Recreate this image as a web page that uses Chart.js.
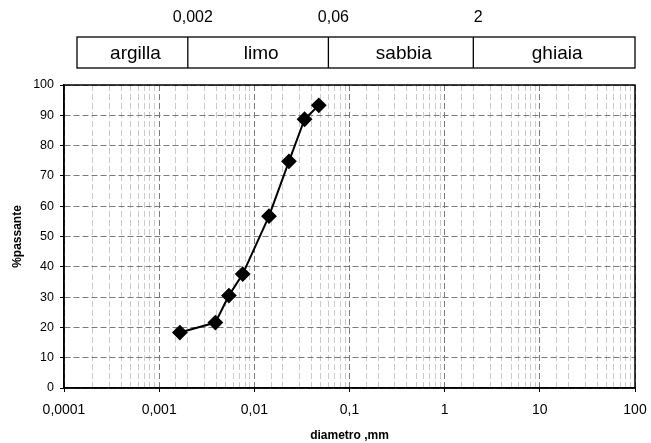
<!DOCTYPE html>
<html lang="it">
<head>
<meta charset="UTF-8" />
<title>Curva granulometrica</title>
<script src="https://cdn.jsdelivr.net/npm/chart.js@4.4.1/dist/chart.umd.min.js"></script>
<style>
  html, body { margin: 0; padding: 0; background: #fff; }
  #wrap { width: 651px; height: 443px; position: relative; }
</style>
</head>
<body>
<div id="wrap"><canvas id="grano"></canvas></div>
<script>
// dati
const diametri = [0.00165, 0.0039, 0.0054, 0.00755, 0.01426, 0.0231, 0.0337, 0.0476];
const passante = [18.3, 21.6, 30.5, 37.6, 56.7, 74.8, 88.7, 93.3];

// classificazione granulometrica
const limitiClassi = [0.002, 0.06, 2];
const etichetteLimiti = ['0,002', '0,06', '2'];
const classi = ['argilla', 'limo', 'sabbia', 'ghiaia'];

const FONT = "'Liberation Sans', Arial, sans-serif";

const isDecade = v => Math.abs(Math.log10(v) - Math.round(Math.log10(v))) < 1e-6;
const fmtDecade = v => {
  const e = Math.round(Math.log10(v));
  return v.toFixed(Math.max(0, -e)).replace('.', ',');
};

// disegna la fascia con le classi sopra il grafico e la cornice
const fasciaClassi = {
  id: 'fasciaClassi',
  afterDraw(chart) {
    const { ctx, chartArea: a, scales: { x } } = chart;
    const top = 37, bottom = 68;
    const left = a.left + 13, right = a.right;
    const bordi = [left, ...limitiClassi.map(v => x.getPixelForValue(v)), right];

    ctx.save();
    ctx.strokeStyle = '#000';
    ctx.lineWidth = 1.3;
    ctx.strokeRect(left, top, right - left, bottom - top);
    for (let i = 1; i < bordi.length - 1; i++) {
      ctx.beginPath();
      ctx.moveTo(bordi[i], top);
      ctx.lineTo(bordi[i], bottom);
      ctx.stroke();
    }

    ctx.fillStyle = '#000';
    ctx.textAlign = 'center';
    ctx.textBaseline = 'middle';
    ctx.font = '19px ' + FONT;
    classi.forEach((c, i) => {
      ctx.fillText(c, (bordi[i] + bordi[i + 1]) / 2 + 3, (top + bottom) / 2 + 1);
    });
    ctx.font = '16px ' + FONT;
    etichetteLimiti.forEach((t, i) => {
      ctx.fillText(t, bordi[i + 1] + 5, 18);
    });

    // cornice dell'area del grafico
    ctx.lineWidth = 1.5;
    ctx.strokeRect(a.left, a.top, a.right - a.left, a.bottom - a.top);
    ctx.restore();
  }
};

new Chart(document.getElementById('grano'), {
  type: 'scatter',
  data: {
    datasets: [{
      data: diametri.map((d, i) => ({ x: d, y: passante[i] })),
      showLine: true,
      borderColor: '#000',
      backgroundColor: '#000',
      borderWidth: 2,
      pointStyle: 'rectRot',
      pointRadius: 6.5,
      pointHoverRadius: 6.5,
      tension: 0
    }]
  },
  options: {
    responsive: true,
    maintainAspectRatio: false,
    animation: false,
    layout: { padding: { top: 85, right: 16, left: 0, bottom: 0 } },
    plugins: { legend: { display: false }, tooltip: { enabled: false } },
    scales: {
      x: {
        type: 'logarithmic',
        min: 0.0001,
        max: 100,
        afterFit: s => { s.height = 55; s.paddingRight = 0; },
        ticks: {
          autoSkip: false,
          maxRotation: 0,
          color: '#000',
          padding: 10,
          font: { family: FONT, size: 14 },
          callback: v => isDecade(v) ? fmtDecade(v) : ''
        },
        grid: {
          color: c => isDecade(c.tick.value) ? '#7a7a7a' : '#cacaca',
          lineWidth: 1,
          tickLength: 4,
          tickColor: c => isDecade(c.tick.value) ? '#000' : 'rgba(0,0,0,0)'
        },
        border: { display: true, color: '#000', width: 1.5, dash: [6, 3] },
        title: {
          display: true,
          text: 'diametro ,mm',
          color: '#000',
          font: { family: FONT, size: 12, weight: 'bold' },
          padding: { top: 0, bottom: 0 }
        }
      },
      y: {
        min: 0,
        max: 100,
        afterFit: s => { s.width = 64; },
        ticks: {
          stepSize: 10,
          color: '#000',
          padding: 6,
          font: { family: FONT, size: 12.5 }
        },
        grid: { color: '#7a7a7a', lineWidth: 1, tickLength: 4, tickColor: '#000' },
        border: { display: true, color: '#000', width: 1.5, dash: [6, 3] },
        title: {
          display: true,
          text: '%passante',
          color: '#000',
          font: { family: FONT, size: 12, weight: 'bold' },
          padding: { top: 10, bottom: 0 }
        }
      }
    }
  },
  plugins: [fasciaClassi]
});
</script>
</body>
</html>
